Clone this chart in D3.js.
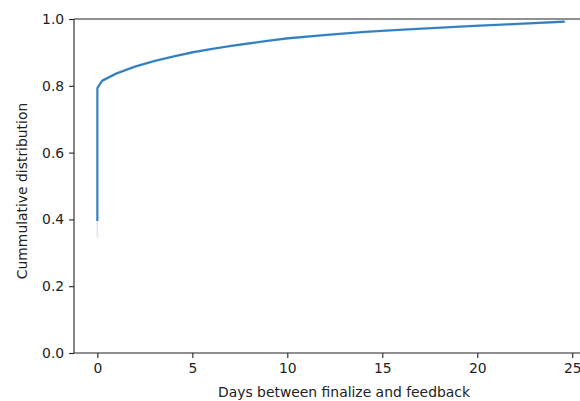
<!DOCTYPE html>
<html>
<head>
<meta charset="utf-8">
<script src="https://cdn.jsdelivr.net/npm/d3@7"></script>
<style>
  html, body { margin: 0; padding: 0; background: #fff; }
  svg { display: block; }
  text { font-family: "DejaVu Sans", sans-serif; }
</style>
</head>
<body>
<svg id="chart" width="580" height="401"></svg>
<script>
// Data
const days   = [0, 0, 0.25, 1, 2, 3, 4, 5, 6, 7, 8, 9, 10, 12, 14, 16, 18, 20, 22, 24.6];
const cdf    = [0.395, 0.793, 0.815, 0.837, 0.858, 0.874, 0.888, 0.900, 0.910, 0.919, 0.927, 0.935, 0.942, 0.952, 0.961, 0.968, 0.974, 0.980, 0.985, 0.992];
const ciLow  = [0.347, 0.790, 0.812, 0.835, 0.856, 0.872, 0.886, 0.898, 0.908, 0.917, 0.925, 0.933, 0.940, 0.950, 0.959, 0.966, 0.972, 0.978, 0.983, 0.990];
const ciHigh = [0.440, 0.796, 0.818, 0.839, 0.860, 0.876, 0.890, 0.902, 0.912, 0.921, 0.929, 0.937, 0.944, 0.954, 0.963, 0.970, 0.976, 0.982, 0.987, 0.994];
const xTicks = [0, 5, 10, 15, 20, 25];
const yTicks = [0.0, 0.2, 0.4, 0.6, 0.8, 1.0];
const xLabel = "Days between finalize and feedback";
const yLabel = "Cummulative distribution";

const svg = d3.select("#chart");
const L = 74, T = 19, B = 353, R = 588;
const x = d3.scaleLinear().domain([-1.23, 25.83]).range([L, R]);
const y = d3.scaleLinear().domain([0, 1]).range([B, T]);

const pts = days.map((d, i) => ({ d, v: cdf[i], lo: ciLow[i], hi: ciHigh[i] }));
const color = "#2f7fc1";

// CI band
svg.append("path")
  .datum(pts)
  .attr("d", d3.area().x(p => x(p.d)).y0(p => y(p.lo)).y1(p => y(p.hi)))
  .attr("fill", color).attr("fill-opacity", 0.2)
  .attr("stroke", color).attr("stroke-opacity", 0.2).attr("stroke-width", 1.5);

// main line
svg.append("path")
  .datum(pts)
  .attr("d", d3.line().x(p => x(p.d)).y(p => y(p.v)))
  .attr("fill", "none")
  .attr("stroke", color)
  .attr("stroke-width", 2.1)
  .attr("stroke-linejoin", "round");

// axes
const fs = "13.9px";
const xAxis = svg.append("g").attr("transform", `translate(0,${B})`)
  .call(d3.axisBottom(x).tickValues(xTicks).tickFormat(d3.format("d")).tickSize(4.9).tickPadding(4.9));
const yAxis = svg.append("g").attr("transform", `translate(${L},0)`)
  .call(d3.axisLeft(y).tickValues(yTicks).tickFormat(d3.format(".1f")).tickSize(4.9).tickPadding(4.9));
[xAxis, yAxis].forEach(g => {
  g.select(".domain").remove();
  g.selectAll(".tick line").attr("stroke", "#222").attr("stroke-width", 1.1);
  g.selectAll(".tick text").attr("fill", "#222").style("font-size", fs).style("font-family", "DejaVu Sans");
});

// spines
const sp = svg.append("g").attr("stroke", "#222").attr("stroke-width", 1.1).attr("fill", "none");
sp.append("line").attr("x1", L).attr("x2", L).attr("y1", T).attr("y2", B);
sp.append("line").attr("x1", L).attr("x2", R).attr("y1", B).attr("y2", B);
sp.append("line").attr("x1", L).attr("x2", R).attr("y1", T).attr("y2", T);
sp.append("line").attr("x1", R).attr("x2", R).attr("y1", T).attr("y2", B);

// labels
svg.append("text").attr("x", 344).attr("y", 397)
  .attr("text-anchor", "middle").style("font-size", fs).attr("fill", "#222").text(xLabel);
svg.append("text").attr("transform", `translate(27,191) rotate(-90)`)
  .attr("text-anchor", "middle").style("font-size", fs).attr("fill", "#222").text(yLabel);
</script>
</body>
</html>
